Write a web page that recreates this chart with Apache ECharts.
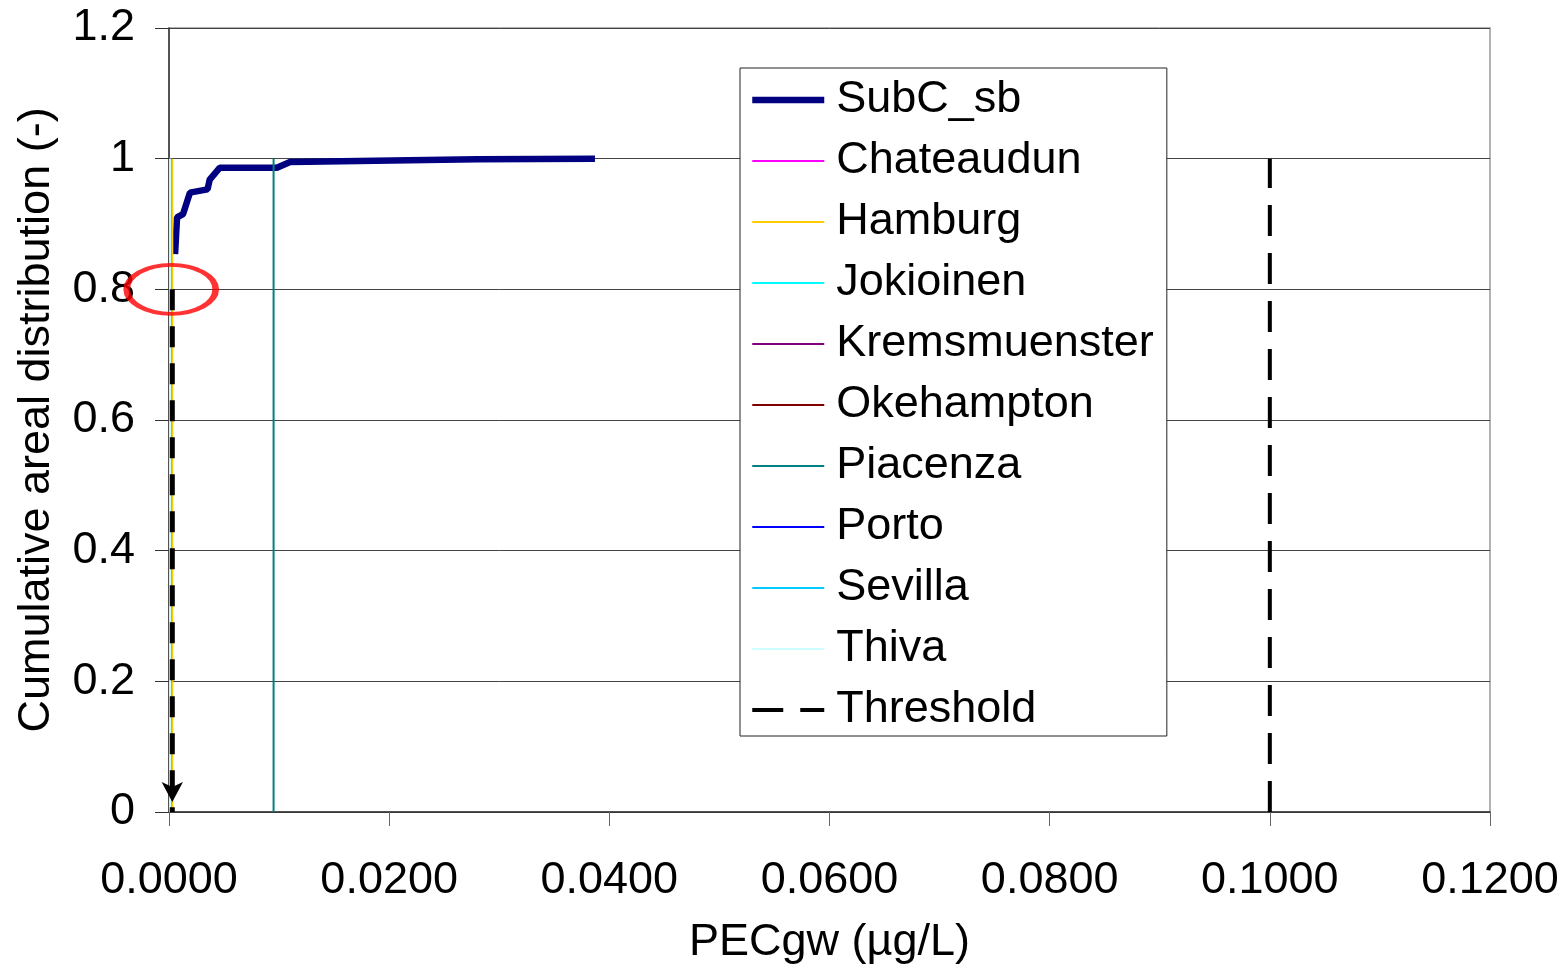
<!DOCTYPE html>
<html>
<head>
<meta charset="utf-8">
<script src="https://cdn.jsdelivr.net/npm/echarts@6/dist/echarts.min.js"></script>
<style>
  html, body { margin: 0; padding: 0; background: #fff; }
  #chart { width: 1564px; height: 970px; }
</style>
</head>
<body>
<div id="chart"></div>
<script>
// cumulative areal distribution of SubC_sb: [PECgw, fraction]
const subcPoints = [
  [0.00055, 0.854], [0.00073, 0.910], [0.00127, 0.915], [0.0019, 0.948],
  [0.0035, 0.953], [0.0037, 0.968], [0.0046, 0.986], [0.0098, 0.986],
  [0.0110, 0.995], [0.0280, 0.999], [0.0387, 1.000]
];

// single-station results: PECgw value drawn as a vertical step from 0 to 1
const stationNames = ['Chateaudun', 'Hamburg', 'Jokioinen', 'Kremsmuenster', 'Okehampton',
  'Piacenza', 'Porto', 'Sevilla', 'Thiva'];
const stationPec = [0.0001, 0.0003, 0.0001, 0.0001, 0.0001, 0.0095, 0.0001, 0.0001, 0.0001];
const stationColors = ['#FF00FF', '#FFCC00', '#00FFFF', '#800080', '#800000',
  '#008080', '#0000FF', '#00CCFF', '#CCFFFF'];

const thresholdValue = 0.1;
const readoutPoint = [0.0003, 0.8];   // 80th percentile read-off, marked by the ellipse and arrow

const xTicks = { min: 0, max: 0.12, step: 0.02 };
const yTicks = { min: 0, max: 1.2, step: 0.2 };

const font = "'Liberation Sans', Arial, sans-serif";
const fs = 45;

const chart = echarts.init(document.getElementById('chart'));

const series = [
  {
    name: 'SubC_sb',
    type: 'line',
    data: subcPoints,
    symbol: 'none',
    lineStyle: { color: '#000080', width: 6.5 },
    itemStyle: { color: '#000080' },
    z: 2
  }
];

stationNames.forEach((name, i) => {
  series.push({
    name,
    type: 'line',
    data: [[stationPec[i], 0], [stationPec[i], 1]],
    symbol: 'none',
    lineStyle: { color: stationColors[i], width: 2 },
    itemStyle: { color: stationColors[i] },
    z: 3
  });
});

series.push({
  name: 'Threshold',
  type: 'line',
  data: [[thresholdValue, 0], [thresholdValue, 1]],
  symbol: 'none',
  lineStyle: { color: '#000', width: 4, type: [31, 17] },
  itemStyle: { color: '#000' },
  z: 4
});

// dashed arrow from the 0.8 read-off down to the x axis
series.push({
  name: 'readout',
  type: 'line',
  data: [
    { value: readoutPoint, symbol: 'none' },
    { value: [readoutPoint[0], 0], symbol: 'arrow', symbolSize: [16, 20], symbolRotate: 180, symbolOffset: [0, -10] }
  ],
  showSymbol: true,
  lineStyle: { color: '#000', width: 5, type: [21, 16] },
  itemStyle: { color: '#000' },
  z: 5,
  silent: true
});

// red ellipse around the read-off
series.push({
  name: 'ellipse',
  type: 'scatter',
  data: [[0.0002, 0.8]],
  symbol: 'circle',
  symbolSize: [89, 49],
  itemStyle: { color: 'rgba(0,0,0,0)', borderColor: '#FF0000', borderWidth: 5 },
  z: 6,
  silent: true
});

chart.setOption({
  animation: false,
  textStyle: { fontFamily: font },
  grid: {
    left: 169, right: 74, top: 28, bottom: 155,
    show: true, borderColor: '#999', borderWidth: 1.5, backgroundColor: 'transparent'
  },
  legend: {
    data: ['SubC_sb'].concat(stationNames, ['Threshold']),
    orient: 'vertical',
    left: 740,
    top: 68,
    padding: [7, 13, 1, 9],
    itemWidth: 72,
    itemHeight: 14,
    itemGap: 11,
    borderColor: '#222',
    borderWidth: 1,
    backgroundColor: '#fff',
    lineStyle: { width: 'inherit' },
    itemStyle: { opacity: 0 },
    textStyle: { fontSize: fs, color: '#000', fontFamily: font, lineHeight: 50, padding: [0, 0, 0, 7] }
  },
  xAxis: {
    type: 'value',
    min: xTicks.min,
    max: xTicks.max,
    interval: xTicks.step,
    name: 'PECgw (µg/L)',
    nameLocation: 'middle',
    nameGap: 108,
    nameTextStyle: { fontSize: fs, color: '#000', fontFamily: font },
    axisLine: { onZero: false, lineStyle: { color: '#333', width: 1.5 } },
    axisTick: { show: true, length: 14, lineStyle: { color: '#666' } },
    axisLabel: { fontSize: fs, color: '#000', margin: 46, formatter: v => v.toFixed(4) },
    splitLine: { show: false }
  },
  yAxis: {
    type: 'value',
    min: yTicks.min,
    max: yTicks.max,
    interval: yTicks.step,
    name: 'Cumulative areal distribution (-)',
    nameLocation: 'middle',
    nameGap: 110,
    nameTextStyle: { fontSize: fs, color: '#000', fontFamily: font },
    axisLine: { show: true, lineStyle: { color: '#333', width: 1.5 } },
    axisTick: { show: true, length: 14, lineStyle: { color: '#333' } },
    axisLabel: { fontSize: fs, color: '#000', margin: 34, padding: [5, 0, 0, 0] },
    splitLine: { show: true, lineStyle: { color: '#444', width: 1 } }
  },
  series
});
</script>
</body>
</html>
